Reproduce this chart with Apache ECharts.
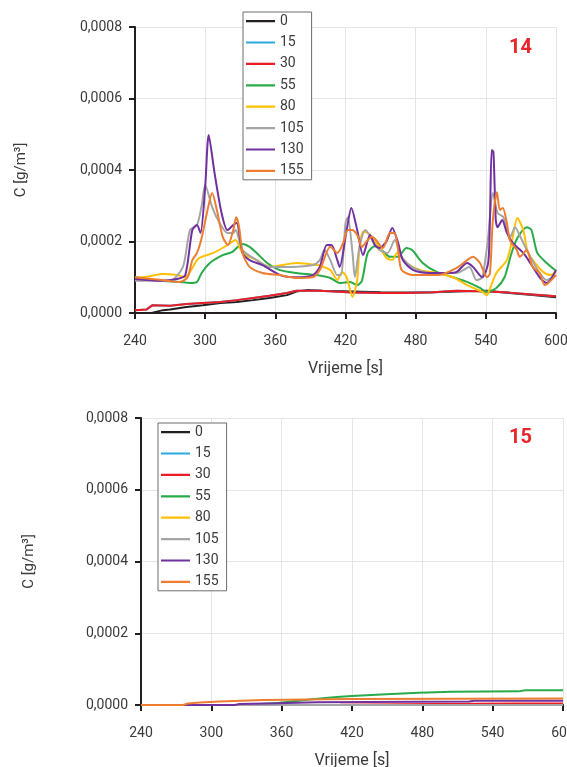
<!DOCTYPE html>
<html>
<head>
<meta charset="utf-8">
<script src="https://cdn.jsdelivr.net/npm/echarts@6/dist/echarts.min.js"></script>
<style>
html,body{margin:0;padding:0;background:#fff;}
#chart{width:567px;height:767px;}
</style>
</head>
<body>
<div id="chart"></div>
<script>
// ---- Data ----
var names = ['0', '15', '30', '55', '80', '105', '130', '155'];
var colors = ['#231f20', '#29abe2', '#ed1c24', '#2aab4a', '#ffc000', '#a5a5a5', '#7030a0', '#ed7d31'];
var xTicks = [240, 300, 360, 420, 480, 540, 600];
var yTicks = [0, 0.0002, 0.0004, 0.0006, 0.0008];

// Chart 14 (top)
var t0 = [240, 255, 264, 270, 284, 298, 313, 327, 341, 355, 370, 378, 387, 400, 426, 450, 472, 495, 515, 541, 560, 580, 600];
var c0 = [0.000000, 0.000001, 0.000008, 0.000010, 0.000017, 0.000022, 0.000028, 0.000031, 0.000036, 0.000042, 0.000050, 0.000060, 0.000064, 0.000062, 0.000060, 0.000058, 0.000057, 0.000058, 0.000060, 0.000062, 0.000056, 0.000050, 0.000044];
var t15 = [240, 250, 255, 270, 284, 298, 313, 327, 341, 355, 370, 378, 398, 426, 450, 472, 495, 515, 541, 560, 580, 600];
var c15 = [0.000008, 0.000010, 0.000022, 0.000020, 0.000025, 0.000028, 0.000031, 0.000036, 0.000042, 0.000048, 0.000056, 0.000062, 0.000062, 0.000057, 0.000056, 0.000056, 0.000058, 0.000062, 0.000060, 0.000057, 0.000052, 0.000047];
var t30 = [240, 250, 255, 270, 284, 298, 313, 327, 341, 355, 370, 378, 398, 426, 450, 472, 495, 515, 541, 560, 580, 600];
var c30 = [0.000008, 0.000010, 0.000022, 0.000020, 0.000025, 0.000028, 0.000031, 0.000036, 0.000042, 0.000048, 0.000056, 0.000062, 0.000062, 0.000057, 0.000056, 0.000056, 0.000058, 0.000062, 0.000060, 0.000057, 0.000052, 0.000047];
var t55 = [240, 262, 278, 287, 293, 297, 304, 315, 323, 328, 332, 338, 344, 353, 364, 378, 395, 407, 415, 424, 430, 434, 439, 445, 451, 458, 465, 472, 477, 486, 498, 512, 524, 535, 541, 549, 556, 562, 567, 575, 579, 584, 592, 600];
var c55 = [0.000100, 0.000090, 0.000087, 0.000084, 0.000087, 0.000112, 0.000140, 0.000162, 0.000170, 0.000185, 0.000193, 0.000185, 0.000168, 0.000140, 0.000120, 0.000112, 0.000106, 0.000098, 0.000084, 0.000087, 0.000078, 0.000090, 0.000168, 0.000187, 0.000176, 0.000157, 0.000157, 0.000182, 0.000176, 0.000140, 0.000115, 0.000100, 0.000087, 0.000070, 0.000059, 0.000070, 0.000100, 0.000168, 0.000210, 0.000240, 0.000232, 0.000168, 0.000140, 0.000118];
var t80 = [240, 253, 264, 276, 283, 289, 293, 297, 307, 319, 326, 332, 344, 355, 378, 396, 401, 407, 411, 413, 417, 421, 426, 430, 432, 435, 439, 443, 449, 455, 460, 464, 472, 484, 498, 512, 524, 537, 541, 543, 549, 558, 562, 567, 572, 576, 582, 589, 595, 600];
var c80 = [0.000098, 0.000103, 0.000109, 0.000106, 0.000100, 0.000126, 0.000148, 0.000157, 0.000168, 0.000190, 0.000204, 0.000168, 0.000148, 0.000129, 0.000140, 0.000134, 0.000129, 0.000120, 0.000100, 0.000092, 0.000115, 0.000100, 0.000045, 0.000092, 0.000185, 0.000227, 0.000224, 0.000210, 0.000185, 0.000154, 0.000148, 0.000168, 0.000140, 0.000120, 0.000112, 0.000100, 0.000078, 0.000059, 0.000050, 0.000064, 0.000112, 0.000148, 0.000196, 0.000266, 0.000232, 0.000168, 0.000140, 0.000115, 0.000106, 0.000115];
var t105 = [240, 270, 281, 287, 293, 297, 300, 306, 311, 319, 324, 326, 332, 344, 355, 373, 392, 398, 402, 407, 413, 416, 420, 422, 426, 428, 432, 437, 443, 449, 456, 462, 468, 478, 492, 515, 526, 532, 537, 542, 546, 550, 555, 561, 565, 570, 578, 586, 592, 600];
var c105 = [0.000090, 0.000090, 0.000129, 0.000232, 0.000246, 0.000300, 0.000358, 0.000296, 0.000260, 0.000224, 0.000224, 0.000232, 0.000176, 0.000148, 0.000129, 0.000129, 0.000134, 0.000148, 0.000176, 0.000148, 0.000106, 0.000106, 0.000252, 0.000268, 0.000168, 0.000100, 0.000185, 0.000232, 0.000204, 0.000176, 0.000168, 0.000204, 0.000157, 0.000126, 0.000112, 0.000112, 0.000129, 0.000092, 0.000100, 0.000213, 0.000336, 0.000280, 0.000268, 0.000213, 0.000240, 0.000210, 0.000157, 0.000112, 0.000092, 0.000106];
var t130 = [240, 262, 276, 283, 289, 293, 296, 300, 303, 308, 314, 319, 324, 327, 332, 338, 349, 364, 378, 392, 398, 404, 408, 413, 415, 421, 425, 430, 435, 441, 445, 449, 455, 460, 465, 469, 478, 492, 507, 515, 524, 529, 537, 542, 543.5, 545, 546.5, 548.5, 550, 554, 558, 563, 572, 578, 586, 592, 600];
var c130 = [0.000095, 0.000090, 0.000095, 0.000106, 0.000232, 0.000246, 0.000224, 0.000352, 0.000498, 0.000392, 0.000280, 0.000232, 0.000246, 0.000252, 0.000168, 0.000148, 0.000134, 0.000106, 0.000100, 0.000106, 0.000129, 0.000190, 0.000190, 0.000148, 0.000129, 0.000232, 0.000294, 0.000232, 0.000162, 0.000218, 0.000190, 0.000182, 0.000200, 0.000238, 0.000196, 0.000148, 0.000120, 0.000112, 0.000112, 0.000115, 0.000140, 0.000129, 0.000100, 0.000140, 0.000260, 0.000456, 0.000450, 0.000260, 0.000240, 0.000260, 0.000224, 0.000196, 0.000168, 0.000140, 0.000100, 0.000084, 0.000120];
var t155 = [240, 263, 278, 285, 289, 293, 297, 301.5, 306, 310, 315, 319.5, 324, 326.5, 329, 332, 338, 349, 364, 378, 392, 398, 407, 413, 418, 422, 425.5, 430, 434, 439, 443, 452, 458, 462, 465, 468, 478, 499, 515, 524, 529, 535, 541, 543.5, 546, 549.5, 552, 554.5, 558, 560.5, 566.5, 569, 575, 580, 586, 590.5, 600];
var c155 = [0.000100, 0.000092, 0.000087, 0.000100, 0.000148, 0.000168, 0.000210, 0.000280, 0.000336, 0.000288, 0.000213, 0.000190, 0.000232, 0.000268, 0.000241, 0.000168, 0.000129, 0.000112, 0.000106, 0.000098, 0.000100, 0.000120, 0.000185, 0.000168, 0.000196, 0.000232, 0.000232, 0.000218, 0.000185, 0.000204, 0.000213, 0.000182, 0.000224, 0.000224, 0.000176, 0.000120, 0.000106, 0.000106, 0.000126, 0.000148, 0.000157, 0.000140, 0.000100, 0.000110, 0.000260, 0.000338, 0.000288, 0.000294, 0.000252, 0.000204, 0.000176, 0.000157, 0.000176, 0.000129, 0.000112, 0.000078, 0.000106];

// Chart 15 (bottom)
var b_t0 = [240, 600];
var b_c0 = [0, 0];
var b_t15 = [240, 600];
var b_c15 = [0, 0];
var b_t30 = [240, 410, 490, 560, 600];
var b_c30 = [0, 0.000001, 0.000003, 0.000004, 0.000004];
var b_t55 = [240, 330, 358, 386, 407, 420, 449, 477, 505, 562, 568, 600];
var b_c55 = [0, 0, 0.000006, 0.000016, 0.000022, 0.000025, 0.000030, 0.000034, 0.000037, 0.000038, 0.000041, 0.000041];
var b_t80 = [240, 600];
var b_c80 = [0, 0];
var b_t105 = [240, 600];
var b_c105 = [0, 0];
var b_t130 = [240, 320, 324, 356, 390, 520, 524, 600];
var b_c130 = [0, 0, 0.000003, 0.000005, 0.000008, 0.000010, 0.000012, 0.000012];
var b_t155 = [240, 276, 280, 290, 307, 344, 418, 600];
var b_c155 = [0, 0, 0.000004, 0.000007, 0.000010, 0.000014, 0.000017, 0.000018];

var topT = [t0, t15, t30, t55, t80, t105, t130, t155];
var topC = [c0, c15, c30, c55, c80, c105, c130, c155];
var botT = [b_t0, b_t15, b_t30, b_t55, b_t80, b_t105, b_t130, b_t155];
var botC = [b_c0, b_c15, b_c30, b_c55, b_c80, b_c105, b_c130, b_c155];

function pairs(t, c) { return t.map(function (x, i) { return [x, c[i]]; }); }

var FONT = 'Roboto';
var axisColor = '#231f20';
var textColor = '#3a3a3a';

function xAxis(idx, gap) {
  return {
    type: 'value', gridIndex: idx, min: 240, max: 600, interval: 60,
    name: 'Vrijeme [s]', nameLocation: 'middle', nameGap: gap,
    nameTextStyle: { fontFamily: FONT, fontSize: 16, color: textColor },
    axisLine: { show: true, lineStyle: { color: axisColor, width: 2 } },
    axisTick: { show: true, length: 6, lineStyle: { color: axisColor, width: 2 } },
    axisLabel: { fontFamily: FONT, fontSize: 14, color: textColor, margin: 21, showMaxLabel: true, showMinLabel: true, hideOverlap: false },
    splitLine: { show: true, lineStyle: { color: '#e4e4e4', width: 1 } }
  };
}
function yAxis(idx, gap) {
  return {
    type: 'value', gridIndex: idx, min: 0, max: 0.0008, interval: 0.0002,
    name: 'C [g/m³]', nameLocation: 'middle', nameGap: gap, nameRotate: 90,
    nameTextStyle: { fontFamily: FONT, fontSize: 15, color: textColor },
    axisLine: { show: true, onZero: false, lineStyle: { color: axisColor, width: 2 } },
    axisTick: { show: true, length: 6, lineStyle: { color: axisColor, width: 2 } },
    axisLabel: { fontFamily: FONT, fontSize: 14, color: textColor, margin: 13,
      formatter: function (v) { return v.toFixed(4).replace('.', ','); } },
    splitLine: { show: true, lineStyle: { color: '#e4e4e4', width: 1 } }
  };
}

var series = [];
names.forEach(function (n, i) {
  series.push({
    name: n, type: 'line', xAxisIndex: 0, yAxisIndex: 0,
    data: pairs(topT[i], topC[i]), symbol: 'none',
    smooth: (i >= 3) ? 0.25 : false,
    lineStyle: { color: colors[i], width: 2 }, itemStyle: { color: colors[i] }
  });
});
names.forEach(function (n, i) {
  series.push({
    name: n, type: 'line', xAxisIndex: 1, yAxisIndex: 1,
    data: pairs(botT[i], botC[i]), symbol: 'none',
    lineStyle: { color: colors[i], width: 2 }, itemStyle: { color: colors[i] }
  });
});

var LINE_ICON = 'path://M0,0L0.01,0L0,0.01Z M0,6L29,6L29,8.2L0,8.2Z M0,14L0.01,14L0,13.99Z';
function legend(left, top) {
  return {
    orient: 'vertical', left: left, top: top, data: names,
    icon: LINE_ICON,
    backgroundColor: '#fff', borderColor: '#6d6d6d', borderWidth: 1,
    padding: [2, 8, 2, 3], itemWidth: 29, itemHeight: 14, itemGap: 7.4,
    textStyle: { fontFamily: FONT, fontSize: 14, color: textColor },
    selectedMode: false
  };
}

var chart = echarts.init(document.getElementById('chart'), null, { renderer: 'canvas' });
chart.setOption({
  animation: false,
  backgroundColor: '#fff',
  grid: [
    { left: 135, right: 11, top: 27, height: 286, containLabel: false, outerBoundsMode: 'none' },
    { left: 141, right: 4, top: 418, height: 287, containLabel: false, outerBoundsMode: 'none' }
  ],
  xAxis: [xAxis(0, 48), xAxis(1, 48)],
  yAxis: [yAxis(0, 106), yAxis(1, 104)],
  legend: [legend(243, 12), legend(158, 423)],
  graphic: [
    { type: 'text', left: 509, top: 38, style: { text: '14', fontFamily: FONT, fontWeight: 'bold', fontSize: 20, fill: '#e8262b' } },
    { type: 'text', left: 509, top: 428, style: { text: '15', fontFamily: FONT, fontWeight: 'bold', fontSize: 20, fill: '#e8262b' } }
  ],
  series: series
});
</script>
</body>
</html>
